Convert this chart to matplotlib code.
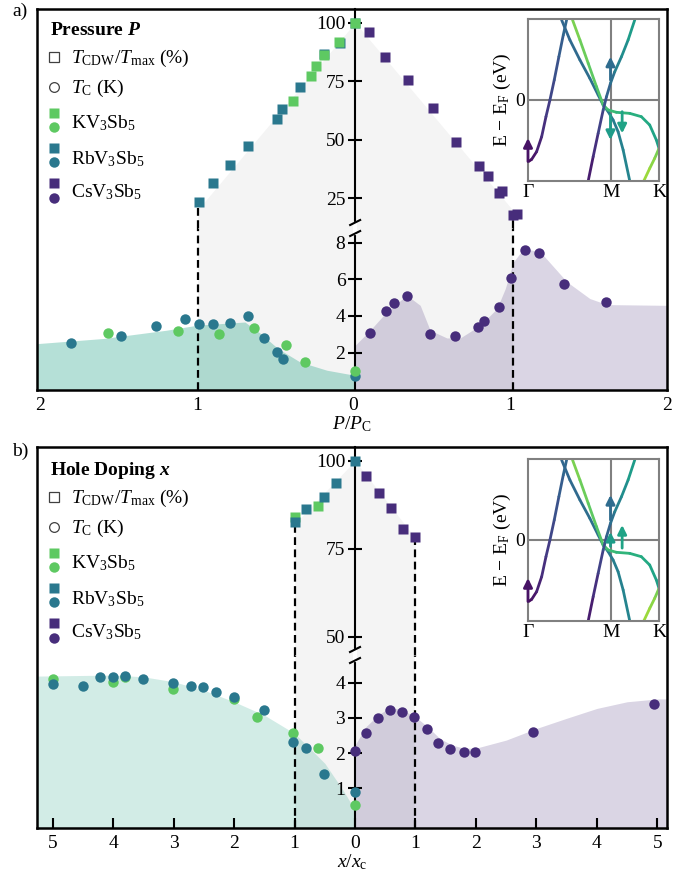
import numpy as np
import matplotlib.pyplot as plt
import matplotlib.transforms as mtransforms
from matplotlib.lines import Line2D
from matplotlib.collections import LineCollection

plt.rcParams['font.family'] = 'Liberation Serif'
plt.rcParams['mathtext.fontset'] = 'custom'
plt.rcParams['mathtext.rm'] = 'Liberation Serif'
plt.rcParams['mathtext.it'] = 'Liberation Serif:italic'
plt.rcParams['mathtext.bf'] = 'Liberation Serif:bold:italic'
plt.rcParams['font.size'] = 14

cmap = plt.get_cmap('viridis')
c_K, c_Rb, c_Cs = '#5ec962', '#2a788e', '#472d7b'
c_teal, c_grey = '#20a386', '#f4f4f4'
dash = (0, (3.5, 2))

#######################
# Panel a: pressure  (K and Rb are drawn on the left half, Cs on the right)

# T_CDW / T_max (%) vs P/Pc
pa_K_sq_x = [0.0, 0.105, 0.200, 0.250, 0.279, 0.397]
pa_K_sq_y = [100, 91.6, 86.0, 81.3, 77.0, 66.7]
pa_Rb_sq_x = [0.0, 0.099, 0.196, 0.347, 0.462, 0.494, 0.679, 0.795, 0.904, 0.989]
pa_Rb_sq_y = [100, 91.3, 86.7, 72.4, 63.0, 58.9, 47.3, 39.1, 31.3, 23.4]
pa_Cs_sq_x = [0.091, 0.190, 0.334, 0.497, 0.641, 0.787, 0.846, 0.916, 0.935, 1.001, 1.026]
pa_Cs_sq_y = [95.8, 85.3, 75.3, 63.4, 48.9, 38.9, 34.6, 27.4, 28.1, 18.0, 18.4]

# Tc (K) vs P/Pc
pa_K_c_x = [1.571, 1.125, 0.862, 0.642, 0.442, 0.320, 0.0]
pa_K_c_y = [3.07, 3.16, 3.01, 3.36, 2.40, 1.47, 1.02]
pa_Rb_c_x = [1.802, 1.487, 1.262, 1.083, 0.989, 0.904, 0.795, 0.679, 0.578, 0.494, 0.459, 0.0]
pa_Rb_c_y = [2.54, 2.91, 3.47, 3.81, 3.56, 3.56, 3.60, 4.00, 2.78, 2.05, 1.65, 0.75]
pa_Cs_c_x = [0.095, 0.195, 0.248, 0.328, 0.476, 0.635, 0.777, 0.815, 0.912, 0.990,
             1.079, 1.168, 1.327, 1.592]
pa_Cs_c_y = [3.05, 4.27, 4.69, 5.11, 3.03, 2.91, 3.38, 3.72, 4.49, 6.09,
             7.59, 7.41, 5.74, 4.76]

# shaded phase regions
pa_sc_left_x = [2.02, 1.6, 1.2, 1.0, 0.7, 0.6, 0.49, 0.35, 0.18, 0.0]
pa_sc_left_y = [2.49, 2.77, 3.22, 3.5, 3.67, 3.04, 2.22, 1.49, 1.04, 0.76]
pa_sc_right_x = [0, 0.095, 0.2, 0.328, 0.413, 0.476, 0.582, 0.667, 0.794, 0.9, 0.953,
                 1.005, 1.07, 1.175, 1.345, 1.49, 1.6, 1.98]
pa_sc_right_y = [2.4, 3.22, 4.22, 5.13, 4.58, 3.22, 2.8, 2.8, 3.49, 4.4, 5.49,
                 6.95, 7.68, 7.5, 5.86, 4.95, 4.62, 4.58]
pa_cdw_x = [-1, 0, 1]
pa_cdw_y = [20, 100, 20]

#######################
# Panel b: hole doping

pb_K_sq_x = [1.0, 0.62]
pb_K_sq_y = [84.1, 87.2]
pb_Rb_sq_x = [1.0, 0.81, 0.51, 0.31, 0.0]
pb_Rb_sq_y = [82.7, 86.2, 89.8, 93.6, 100]
pb_Cs_sq_x = [0.18, 0.40, 0.59, 0.79, 1.0]
pb_Cs_sq_y = [95.7, 90.9, 86.5, 80.5, 78.4]

pb_K_c_x = [5.0, 4.0, 3.8, 3.01, 2.0, 1.62, 1.02, 0.61, 0.0]
pb_K_c_y = [4.11, 4.02, 4.17, 3.83, 3.53, 3.02, 2.56, 2.15, 0.51]
pb_Rb_c_x = [5.0, 4.5, 4.21, 4.0, 3.80, 3.50, 3.01, 2.71, 2.51, 2.30, 2.0, 1.51,
             1.02, 0.81, 0.51, 0.0]
pb_Rb_c_y = [3.96, 3.92, 4.17, 4.17, 4.19, 4.12, 3.99, 3.92, 3.87, 3.75, 3.60, 3.24,
             2.32, 2.15, 1.41, 0.89]
pb_Cs_c_x = [0.0, 0.18, 0.38, 0.58, 0.77, 0.98, 1.19, 1.37, 1.57, 1.80, 1.98, 2.95, 4.95]
pb_Cs_c_y = [2.07, 2.58, 3.0, 3.22, 3.17, 3.02, 2.69, 2.29, 2.12, 2.02, 2.02, 2.59, 3.39]

pb_sc_left_x = [5.26, 4.0, 3.5, 3.0, 2.5, 2.0, 1.5, 1.0, 0.5, 0.2, 0.0]
pb_sc_left_y = [4.19, 4.22, 4.17, 4.03, 3.79, 3.46, 3.08, 2.56, 1.71, 0.95, 0.38]
pb_sc_right_x = [0, 0.18, 0.38, 0.58, 0.77, 1.0, 1.2, 1.4, 1.6, 1.8, 2.0, 2.5, 3.0,
                 3.5, 4.0, 4.5, 5.0, 5.16]
pb_sc_right_y = [2.23, 2.75, 3.08, 3.3, 3.24, 3.03, 2.75, 2.42, 2.23, 2.14, 2.14, 2.37,
                 2.7, 2.99, 3.27, 3.46, 3.54, 3.54]
pb_cdw_x = [-1, 0, 1]
pb_cdw_y = [82, 100, 78]

#######################
# Inset band structure (k: Gamma=0, M=1, K=1.582; E scaled to +-1)
k_M, k_K = 1.0, 1.582
band_A_k = [0.004, 0.044, 0.104, 0.165, 0.217, 0.265, 0.317, 0.373, 0.426, 0.466]
band_A_E = [-0.761, -0.733, -0.638, -0.453, -0.206, 0.0, 0.247, 0.535, 0.802, 0.988]
band_B_k = [0.406, 0.506, 0.627, 0.747, 0.847, 0.908, 0.968, 1.028, 1.088, 1.149, 1.229]
band_B_E = [0.988, 0.741, 0.494, 0.267, 0.062, -0.062, -0.144, -0.247, -0.391, -0.617, -1.0]
band_C_k = [0.538, 0.627, 0.727, 0.827, 0.908, 0.968, 1.068, 1.229, 1.369, 1.470, 1.550, 1.582]
band_C_E = [0.988, 0.741, 0.453, 0.165, -0.062, -0.123, -0.152, -0.165, -0.206, -0.309,
            -0.494, -0.597]
band_D_k = [0.727, 0.787, 0.847, 0.908, 0.948, 0.996, 1.048, 1.129, 1.209, 1.289]
band_D_E = [-1.0, -0.700, -0.412, -0.123, 0.041, 0.206, 0.350, 0.535, 0.741, 0.988]
band_E_k = [1.582, 1.530, 1.470, 1.398]
band_E_E = [-0.597, -0.720, -0.844, -1.0]

# (k, E start, E end, colour position on viridis)
arrows_a = [(0.0, -0.76, -0.47, 0.05), (0.996, 0.247, 0.535, 0.35),
            (0.996, -0.185, -0.494, 0.55), (1.137, -0.144, -0.412, 0.58)]
arrows_b = [(0.0, -0.76, -0.47, 0.05), (0.996, 0.247, 0.556, 0.35),
            (0.996, -0.08, 0.10, 0.55), (1.137, -0.10, 0.185, 0.58)]

W, H = 690, 875
fig = plt.figure(figsize=(W / 100, H / 100), dpi=100)


def fig_rect(x0, y0, x1, y1):
    return [x0 / W, 1 - y1 / H, (x1 - x0) / W, (y1 - y0) / H]


def make_panel(top, brk, bottom, xlim, lo_ylim, hi_ylim, lo_ticks, hi_ticks,
               xticks, xlabel, xtick_len):
    frame = fig.add_axes(fig_rect(37, top, 667, bottom), zorder=5)
    frame.patch.set_visible(False)
    frame.set_xlim(xlim)
    frame.set_ylim(0, 1)
    frame.set_yticks([])
    frame.set_xticks(xticks, [f'{abs(t):g}' for t in xticks])
    frame.tick_params(axis='x', direction='in', length=xtick_len, width=1.5,
                      labelsize=14, pad=5)
    for sp in frame.spines.values():
        sp.set_linewidth(1.8)
    frame.set_xlabel(xlabel, fontsize=14, labelpad=0)

    lo = fig.add_axes(fig_rect(37, brk, 667, bottom), zorder=1)
    hi = fig.add_axes(fig_rect(37, top, 667, brk), zorder=1)
    for ax, yl, yt in ((lo, lo_ylim, lo_ticks), (hi, hi_ylim, hi_ticks)):
        ax.patch.set_visible(False)
        ax.set_xlim(xlim)
        ax.set_ylim(yl)
        ax.set_xticks([])
        for name in ('top', 'right', 'bottom'):
            ax.spines[name].set_visible(False)
        ax.spines['left'].set_position(('data', 0))
        ax.spines['left'].set_linewidth(1.5)
        ax.spines['left'].set_zorder(4)
        ax.set_yticks(yt)
        ax.tick_params(axis='y', direction='inout', length=10, width=1.5,
                       labelsize=14, pad=2)

    # break marks on the centre axis
    base = fig.dpi_scale_trans + mtransforms.ScaledTranslation(0, 1, lo.get_xaxis_transform())
    fig.add_artist(Line2D([0, 0], [-0.045, 0.045], color='white', lw=3,
                          transform=base, zorder=7))
    for dy in (0.055, -0.055):
        fig.add_artist(Line2D([-0.05, 0.05], [dy - 0.025, dy + 0.025], color='black',
                              lw=1.5, transform=base, zorder=8))
    return frame, lo, hi


def draw_points(ax, xs, ys, color, marker, left):
    xs = -np.asarray(xs) if left else np.asarray(xs)
    ax.plot(xs, ys, ls='none', marker=marker, ms=7.5, mfc=color, mec='none',
            zorder=5, clip_on=False)


def draw_legend(title, dy):
    def P(x, y):
        return x / W, 1 - (y + dy) / H
    fig.text(*P(50, 35), title, fontsize=14, fontweight='bold', va='baseline')
    fig.add_artist(Line2D(*zip(P(54, 57)), marker='s', ms=7, mfc='none', mec='0.25',
                          mew=0.9, transform=fig.transFigure))
    fig.text(*P(71, 63), r'$T_\mathrm{CDW}/T_\mathrm{max}$ (%)', fontsize=14, va='baseline')
    fig.add_artist(Line2D(*zip(P(54, 87)), marker='o', ms=7, mfc='none', mec='0.25',
                          mew=0.9, transform=fig.transFigure))
    fig.text(*P(71, 93), r'$T_\mathrm{C}$ (K)', fontsize=14, va='baseline')
    rows = [(c_K, 'KV$_3$Sb$_5$', 113, 127, 128),
            (c_Rb, 'RbV$_3$Sb$_5$', 148, 162, 164),
            (c_Cs, 'CsV$_3$Sb$_5$', 183, 198, 197)]
    for col, lab, ys, yc, yt in rows:
        fig.add_artist(Line2D(*zip(P(54, ys)), marker='s', ms=7.5, mfc=col, mec='none',
                              transform=fig.transFigure))
        fig.add_artist(Line2D(*zip(P(54, yc)), marker='o', ms=7.5, mfc=col, mec='none',
                              transform=fig.transFigure))
        fig.text(*P(71, yt), lab, fontsize=14, va='baseline')


def grad_line(ax, k, e, c0, c1):
    pts = np.column_stack([k, e])
    segs = np.stack([pts[:-1], pts[1:]], axis=1)
    cols = cmap(np.linspace(c0, c1, len(segs)))
    ax.add_collection(LineCollection(segs, colors=cols, linewidths=2,
                                     capstyle='round', joinstyle='round'))


def draw_inset(rect, arrows):
    ins = fig.add_axes(rect, zorder=6)
    ins.set_xlim(0, k_K)
    ins.set_ylim(-1, 1)
    for sp in ins.spines.values():
        sp.set_color('0.5')
        sp.set_linewidth(1.5)
    ins.axvline(k_M, color='0.5', lw=1.5)
    ins.axhline(0, color='0.5', lw=1.5)
    ins.set_xticks([0, k_M, k_K], ['Γ', 'M', 'K'])
    ins.set_yticks([0], ['0'])
    ins.tick_params(length=0, labelsize=14, pad=2)
    ins.set_ylabel(r'E $-$ E$_\mathrm{F}$ (eV)', fontsize=14, labelpad=2)
    grad_line(ins, band_A_k, band_A_E, 0.02, 0.33)
    grad_line(ins, band_B_k, band_B_E, 0.33, 0.45)
    grad_line(ins, band_C_k, band_C_E, 0.80, 0.56)
    grad_line(ins, band_D_k, band_D_E, 0.08, 0.55)
    grad_line(ins, band_E_k, band_E_E, 0.80, 0.85)
    for k, e0, e1, c in arrows:
        ins.annotate('', xy=(k, e1), xytext=(k, e0),
                     arrowprops=dict(arrowstyle='-|>', color=cmap(c), lw=2,
                                     mutation_scale=13, shrinkA=0, shrinkB=0))


def fill_regions(lo, hi, lo_ylim, hi_ylim, cdw_x, cdw_y, sl_x, sl_y, sr_x, sr_y, a_teal):
    lo.fill_between([-1, 1], lo_ylim[0], lo_ylim[1], color=c_grey, lw=0, zorder=0.5)
    hi.fill_between(cdw_x, hi_ylim[0], cdw_y, color=c_grey, lw=0, zorder=0.5)
    lo.fill_between(-np.asarray(sl_x), lo_ylim[0], sl_y, color=c_teal, alpha=a_teal,
                    lw=0, zorder=1)
    lo.fill_between(sr_x, lo_ylim[0], sr_y, color=c_Cs, alpha=0.2, lw=0, zorder=1)


def dashed_edges(lo, hi, hi_ylim, left_top, right_top):
    lo.axvline(-1, color='black', lw=1.6, ls=dash, zorder=2)
    lo.axvline(1, color='black', lw=1.6, ls=dash, zorder=2)
    hi.vlines(-1, hi_ylim[0], left_top, color='black', lw=1.6, ls=dash, zorder=2)
    hi.vlines(1, hi_ylim[0], right_top, color='black', lw=1.6, ls=dash, zorder=2)


#######################
# a) pressure
lo_a, hi_a = (-0.04, 8.8), (12.3, 105.8)
frame_a, lo, hi = make_panel(9, 228, 390, (-2.02, 1.98), lo_a, hi_a, [2, 4, 6, 8],
                             [25, 50, 75, 100], [-2, -1, 0, 1, 2],
                             r'$P/P_\mathrm{C}$', 0)
fill_regions(lo, hi, lo_a, hi_a, pa_cdw_x, pa_cdw_y, pa_sc_left_x, pa_sc_left_y,
             pa_sc_right_x, pa_sc_right_y, 0.33)
dashed_edges(lo, hi, hi_a, pa_Rb_sq_y[-1], pa_Cs_sq_y[-2])

draw_points(hi, pa_Rb_sq_x, pa_Rb_sq_y, c_Rb, 's', True)
draw_points(hi, pa_K_sq_x, pa_K_sq_y, c_K, 's', True)
draw_points(hi, pa_Cs_sq_x, pa_Cs_sq_y, c_Cs, 's', False)
draw_points(lo, pa_Rb_c_x, pa_Rb_c_y, c_Rb, 'o', True)
draw_points(lo, pa_K_c_x, pa_K_c_y, c_K, 'o', True)
draw_points(lo, pa_Cs_c_x, pa_Cs_c_y, c_Cs, 'o', False)

draw_legend(r'Pressure $\mathbf{P}$', 0)
draw_inset(fig_rect(528, 19, 659, 181), arrows_a)
fig.text(12 / W, 1 - 3 / H, 'a)', fontsize=14, va='top')

#######################
# b) hole doping
lo_b, hi_b = (-0.13, 4.79), (44.8, 103.9)
frame_b, lo, hi = make_panel(447, 655, 828, (-5.26, 5.16), lo_b, hi_b, [1, 2, 3, 4],
                             [50, 75, 100], list(range(-5, 6)),
                             r'$x/x_\mathrm{c}$', 7)
fill_regions(lo, hi, lo_b, hi_b, pb_cdw_x, pb_cdw_y, pb_sc_left_x, pb_sc_left_y,
             pb_sc_right_x, pb_sc_right_y, 0.2)
dashed_edges(lo, hi, hi_b, pb_Rb_sq_y[0], pb_Cs_sq_y[-1])

draw_points(hi, pb_K_sq_x, pb_K_sq_y, c_K, 's', True)
draw_points(hi, pb_Rb_sq_x, pb_Rb_sq_y, c_Rb, 's', True)
draw_points(hi, pb_Cs_sq_x, pb_Cs_sq_y, c_Cs, 's', False)
draw_points(lo, pb_K_c_x, pb_K_c_y, c_K, 'o', True)
draw_points(lo, pb_Rb_c_x, pb_Rb_c_y, c_Rb, 'o', True)
draw_points(lo, pb_Cs_c_x, pb_Cs_c_y, c_Cs, 'o', False)

draw_legend(r'Hole Doping $\mathbf{x}$', 440)
draw_inset(fig_rect(528, 459, 659, 621), arrows_b)
fig.text(12 / W, 1 - 443 / H, 'b)', fontsize=14, va='top')

plt.savefig('out.png', dpi=100)
